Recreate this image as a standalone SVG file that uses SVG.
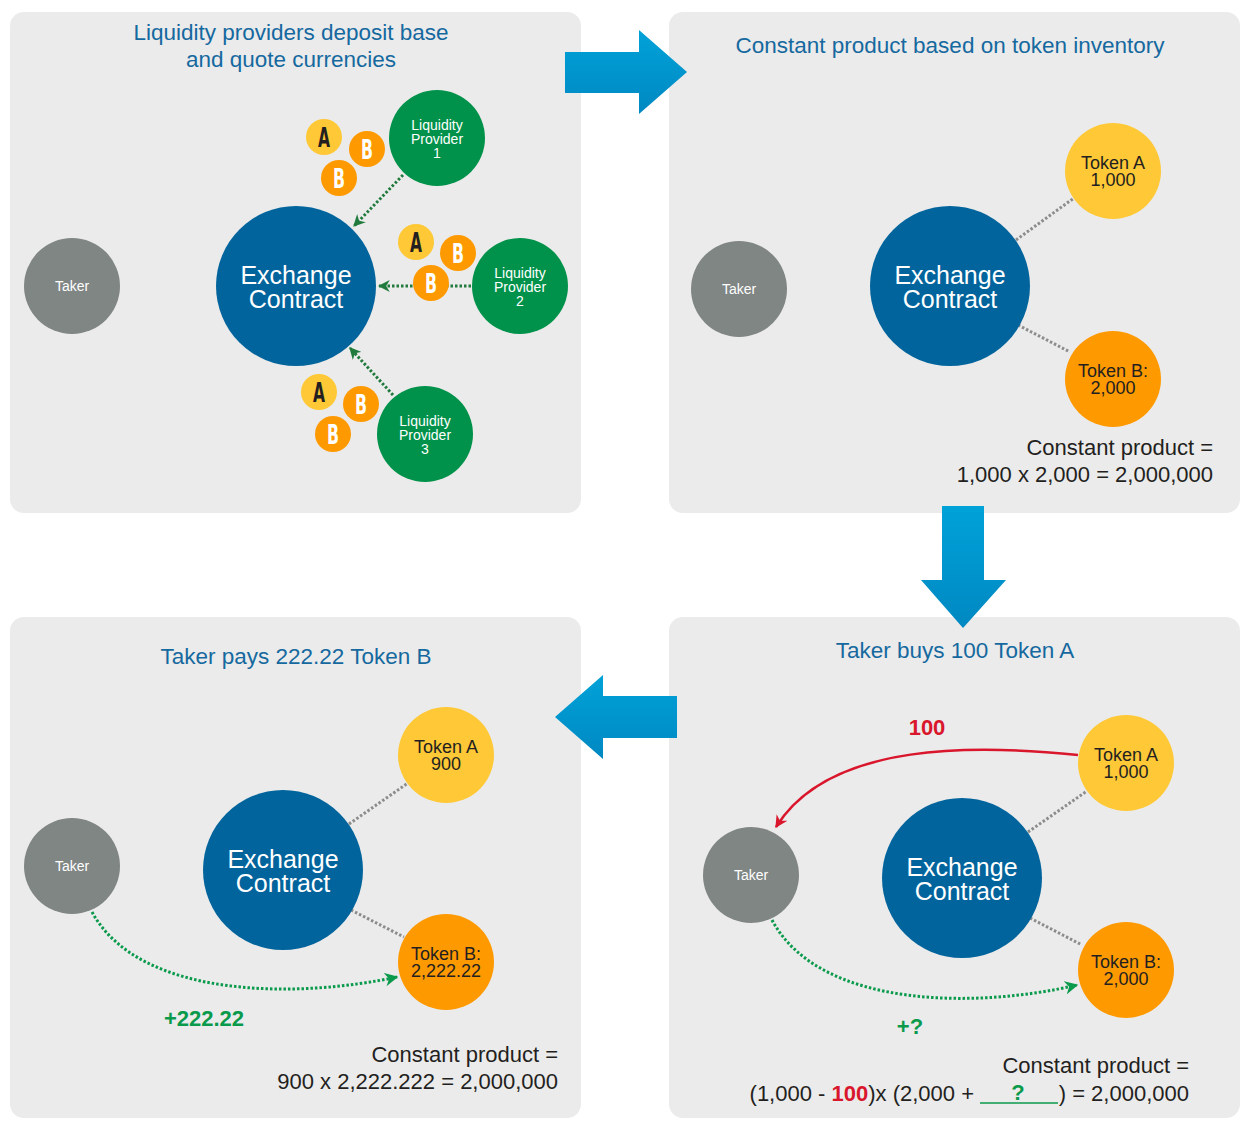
<svg xmlns="http://www.w3.org/2000/svg" width="1250" height="1129" viewBox="0 0 1250 1129">
<defs>
<linearGradient id="bgrad" x1="0" y1="0" x2="0" y2="1">
<stop offset="0" stop-color="#00a2d8"/>
<stop offset="1" stop-color="#0088c2"/>
</linearGradient>
<marker id="mg" viewBox="0 0 10 10" refX="9" refY="5" markerWidth="4" markerHeight="4" orient="auto" markerUnits="strokeWidth">
<path d="M0,0 L10,5 L0,10 L3,5 Z" fill="#1f7a3c"/>
</marker>
<marker id="mg2" viewBox="0 0 10 10" refX="9" refY="5" markerWidth="4.5" markerHeight="4.5" orient="auto" markerUnits="strokeWidth">
<path d="M0,0 L10,5 L0,10 L3,5 Z" fill="#0a9a4c"/>
</marker>
<marker id="mr" viewBox="0 0 10 10" refX="9" refY="5" markerWidth="5" markerHeight="5" orient="auto" markerUnits="strokeWidth">
<path d="M0,0 L10,5 L0,10 L3,5 Z" fill="#d9162c"/>
</marker>
</defs>
<style>
.panel{fill:#ebebeb}
.title{font-family:"Liberation Sans",Arial,sans-serif;font-size:22.5px;fill:#15699f;text-anchor:middle}
.ex{fill:#02649c}
.extx{font-family:"Liberation Sans",Arial,sans-serif;font-size:25px;fill:#fff;text-anchor:middle}
.tk{fill:#808684}
.tktx{font-family:"Liberation Sans",Arial,sans-serif;font-size:14px;fill:#fff;text-anchor:middle}
.lp{fill:#00924a}
.lptx{font-family:"Liberation Sans",Arial,sans-serif;font-size:14px;fill:#fff;text-anchor:middle}
.ya{fill:#fec836}
.ob{fill:#fe9900}
.tokt{font-family:"Liberation Sans",Arial,sans-serif;font-size:18px;fill:#231f20;text-anchor:middle}
.coinA{font-family:"DejaVu Sans",sans-serif;font-weight:bold;font-size:27px;fill:#231f20;text-anchor:middle}
.coinB{font-family:"DejaVu Sans",sans-serif;font-weight:bold;font-size:27px;fill:#fff;text-anchor:middle}
.cp{font-family:"Liberation Sans",Arial,sans-serif;font-size:22px;fill:#231f20;text-anchor:end}
.gdot{fill:none;stroke:#1f7a3c;stroke-width:3;stroke-dasharray:2.5 2}
.gdot2{fill:none;stroke:#0a9a4c;stroke-width:3;stroke-dasharray:2.5 2}
.gray{fill:none;stroke:#8c8c8c;stroke-width:3;stroke-dasharray:2.5 2}
.red{fill:none;stroke:#d9162c;stroke-width:2.5}
.gb{font-family:"Liberation Sans",Arial,sans-serif;font-weight:bold;font-size:22px;fill:#0a9a4c;text-anchor:middle}
.rb{font-family:"Liberation Sans",Arial,sans-serif;font-weight:bold;font-size:22px;fill:#d9162c;text-anchor:middle}
</style>

<g id="panels">
<rect class="panel" x="10" y="12" width="571" height="501" rx="14"/>
<rect class="panel" x="669" y="12" width="571" height="501" rx="14"/>
<rect class="panel" x="10" y="617" width="571" height="501" rx="14"/>
<rect class="panel" x="669" y="617" width="571" height="501" rx="14"/>
</g>

<g id="big-arrows">
<path d="M565,52 H639 V30 L687,72 L639,114 V93 H565 Z" fill="url(#bgrad)"/>
<path d="M942,506 H984 V580 H1006 L963,628 L921,580 H942 Z" fill="url(#bgrad)"/>
<path d="M677,696 H603 V675 L555,717 L603,759 V738 H677 Z" fill="url(#bgrad)"/>
</g>

<g id="titles">
<text class="title" x="291" y="40">Liquidity providers deposit base</text>
<text class="title" x="291" y="67">and quote currencies</text>
<text class="title" x="950" y="53">Constant product based on token inventory</text>
<text class="title" x="955" y="658">Taker buys 100 Token A</text>
<text class="title" x="296" y="664">Taker pays 222.22 Token B</text>
</g>

<g id="connectors">
<line class="gdot" x1="403" y1="175" x2="354" y2="226" marker-end="url(#mg)"/>
<line class="gdot" x1="471" y1="286" x2="379" y2="286" marker-end="url(#mg)"/>
<line class="gdot" x1="393" y1="395" x2="350" y2="348" marker-end="url(#mg)"/>
<line class="gray" x1="1016" y1="240" x2="1074" y2="198"/>
<line class="gray" x1="1018" y1="325" x2="1070" y2="352"/>
<line class="gray" x1="1028" y1="832" x2="1087" y2="791"/>
<line class="gray" x1="1030" y1="918" x2="1082" y2="945"/>
<line class="gray" x1="349" y1="824" x2="408" y2="783"/>
<line class="gray" x1="351" y1="910" x2="404" y2="937"/>
<path class="red" d="M1078,755 C980,745 830,740 776,827" marker-end="url(#mr)"/>
<path class="gdot2" d="M772,920 C820,1010 980,1008 1077,985" marker-end="url(#mg2)"/>
<path class="gdot2" d="M92,912 C140,1000 300,998 397,977" marker-end="url(#mg2)"/>
</g>

<g id="tl-taker"><circle class="tk" cx="72" cy="286" r="48"/><text class="tktx" x="72" y="291">Taker</text></g>
<g id="tl-exchange"><circle class="ex" cx="296" cy="286" r="80"/><text class="extx" x="296" y="284">Exchange</text><text class="extx" x="296" y="308">Contract</text></g>
<g id="lp1"><circle class="lp" cx="437" cy="138" r="48"/><text class="lptx" x="437" y="130">Liquidity</text><text class="lptx" x="437" y="144">Provider</text><text class="lptx" x="437" y="158">1</text></g>
<g id="lp2"><circle class="lp" cx="520" cy="286" r="48"/><text class="lptx" x="520" y="278">Liquidity</text><text class="lptx" x="520" y="292">Provider</text><text class="lptx" x="520" y="306">2</text></g>
<g id="lp3"><circle class="lp" cx="425" cy="434" r="48"/><text class="lptx" x="425" y="426">Liquidity</text><text class="lptx" x="425" y="440">Provider</text><text class="lptx" x="425" y="454">3</text></g>

<g id="coins1">
<circle class="ya" cx="324" cy="137" r="18"/><text class="coinA" x="324" y="147" textLength="12" lengthAdjust="spacingAndGlyphs">A</text>
<circle class="ob" cx="367" cy="149" r="18"/><text class="coinB" x="367" y="159" textLength="12" lengthAdjust="spacingAndGlyphs">B</text>
<circle class="ob" cx="339" cy="178" r="18"/><text class="coinB" x="339" y="188" textLength="12" lengthAdjust="spacingAndGlyphs">B</text>
</g>
<g id="coins2">
<circle class="ya" cx="416" cy="242" r="18"/><text class="coinA" x="416" y="252" textLength="12" lengthAdjust="spacingAndGlyphs">A</text>
<circle class="ob" cx="458" cy="253" r="18"/><text class="coinB" x="458" y="263" textLength="12" lengthAdjust="spacingAndGlyphs">B</text>
<circle class="ob" cx="431" cy="283" r="18"/><text class="coinB" x="431" y="293" textLength="12" lengthAdjust="spacingAndGlyphs">B</text>
</g>
<g id="coins3">
<circle class="ya" cx="319" cy="392" r="18"/><text class="coinA" x="319" y="402" textLength="12" lengthAdjust="spacingAndGlyphs">A</text>
<circle class="ob" cx="361" cy="404" r="18"/><text class="coinB" x="361" y="414" textLength="12" lengthAdjust="spacingAndGlyphs">B</text>
<circle class="ob" cx="333" cy="434" r="18"/><text class="coinB" x="333" y="444" textLength="12" lengthAdjust="spacingAndGlyphs">B</text>
</g>

<g id="tr-taker"><circle class="tk" cx="739" cy="289" r="48"/><text class="tktx" x="739" y="294">Taker</text></g>
<g id="tr-exchange"><circle class="ex" cx="950" cy="286" r="80"/><text class="extx" x="950" y="284">Exchange</text><text class="extx" x="950" y="308">Contract</text></g>
<g id="tr-tokenA"><circle class="ya" cx="1113" cy="171" r="48"/><text class="tokt" x="1113" y="169">Token A</text><text class="tokt" x="1113" y="186">1,000</text></g>
<g id="tr-tokenB"><circle class="ob" cx="1113" cy="379" r="48"/><text class="tokt" x="1113" y="377">Token B:</text><text class="tokt" x="1113" y="394">2,000</text></g>
<g id="tr-formula"><text class="cp" x="1213" y="455">Constant product =</text><text class="cp" x="1213" y="482">1,000 x 2,000 = 2,000,000</text></g>

<g id="br-taker"><circle class="tk" cx="751" cy="875" r="48"/><text class="tktx" x="751" y="880">Taker</text></g>
<g id="br-exchange"><circle class="ex" cx="962" cy="878" r="80"/><text class="extx" x="962" y="876">Exchange</text><text class="extx" x="962" y="900">Contract</text></g>
<g id="br-tokenA"><circle class="ya" cx="1126" cy="763" r="48"/><text class="tokt" x="1126" y="761">Token A</text><text class="tokt" x="1126" y="778">1,000</text></g>
<g id="br-tokenB"><circle class="ob" cx="1126" cy="970" r="48"/><text class="tokt" x="1126" y="968">Token B:</text><text class="tokt" x="1126" y="985">2,000</text></g>
<g id="br-labels"><text class="rb" x="927" y="735">100</text><text class="gb" x="910" y="1034">+?</text></g>
<g id="br-formula">
<text class="cp" x="1189" y="1073">Constant product =</text>
<text class="cp" x="974" y="1101">(1,000 - <tspan fill="#d9162c" font-weight="bold">100</tspan>)x (2,000 +</text>
<text class="gb" x="1018" y="1100">?</text>
<line x1="980" y1="1103" x2="1058" y2="1103" stroke="#0a9a4c" stroke-width="1.5"/>
<text class="cp" x="1189" y="1101">) = 2,000,000</text>
</g>

<g id="bl-taker"><circle class="tk" cx="72" cy="866" r="48"/><text class="tktx" x="72" y="871">Taker</text></g>
<g id="bl-exchange"><circle class="ex" cx="283" cy="870" r="80"/><text class="extx" x="283" y="868">Exchange</text><text class="extx" x="283" y="892">Contract</text></g>
<g id="bl-tokenA"><circle class="ya" cx="446" cy="755" r="48"/><text class="tokt" x="446" y="753">Token A</text><text class="tokt" x="446" y="770">900</text></g>
<g id="bl-tokenB"><circle class="ob" cx="446" cy="962" r="48"/><text class="tokt" x="446" y="960">Token B:</text><text class="tokt" x="446" y="977">2,222.22</text></g>
<g id="bl-labels"><text class="gb" x="204" y="1026">+222.22</text></g>
<g id="bl-formula"><text class="cp" x="558" y="1062">Constant product =</text><text class="cp" x="558" y="1089">900 x 2,222.222 = 2,000,000</text></g>
</svg>
